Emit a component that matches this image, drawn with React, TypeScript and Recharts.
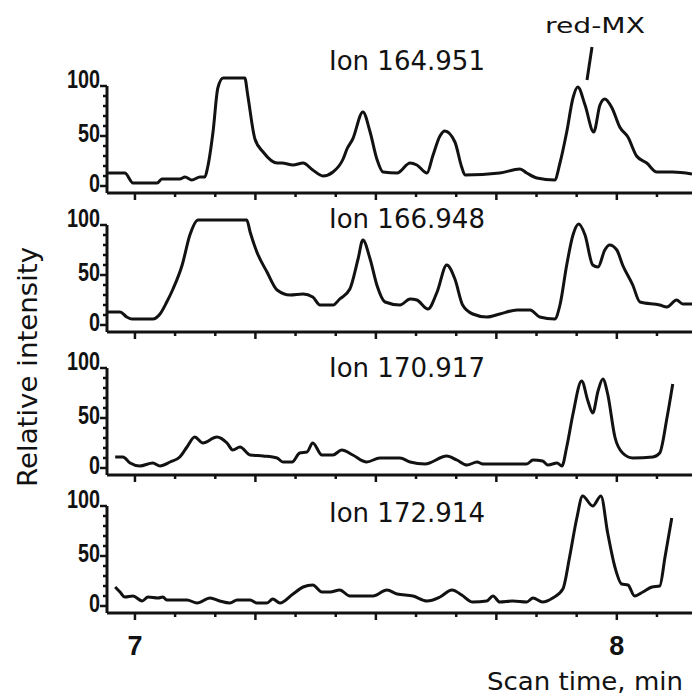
import React from 'react';
import { LineChart, Line, XAxis, YAxis, ReferenceLine } from 'recharts';

// Selected-ion traces: [scan time (min), relative intensity (%)]
const ion164951: [number, number][] = [
  [6.942, 13], [6.979, 13], [6.996, 3], [7.046, 3], [7.056, 7], [7.093, 7], [7.104, 9], [7.118, 6],
  [7.135, 9], [7.145, 9], [7.151, 19], [7.162, 54], [7.172, 98], [7.183, 108], [7.228, 108], [7.234, 91],
  [7.249, 47], [7.266, 34], [7.295, 23], [7.305, 23], [7.328, 21], [7.349, 23], [7.369, 16], [7.39, 10],
  [7.411, 14], [7.432, 27], [7.44, 37], [7.452, 47], [7.473, 74], [7.488, 54], [7.502, 27], [7.515, 14],
  [7.544, 13], [7.571, 23], [7.585, 21], [7.606, 13], [7.618, 30], [7.633, 50], [7.643, 55], [7.664, 44],
  [7.678, 19], [7.685, 11], [7.757, 13], [7.799, 17], [7.813, 13], [7.834, 8], [7.871, 6], [7.882, 23],
  [7.896, 54], [7.909, 88], [7.919, 99], [7.934, 81], [7.952, 54], [7.965, 81], [7.975, 87], [7.99, 78],
  [8.006, 59], [8.023, 49], [8.041, 30], [8.062, 23], [8.083, 14], [8.116, 14], [8.156, 12],
];

const ion166948: [number, number][] = [
  [6.942, 13], [6.969, 13], [6.983, 8], [6.994, 6], [7.037, 6], [7.052, 11], [7.066, 23], [7.079, 36],
  [7.098, 60], [7.114, 90], [7.131, 105], [7.232, 105], [7.239, 93], [7.253, 73], [7.274, 53], [7.295, 35],
  [7.322, 30], [7.349, 31], [7.369, 28], [7.384, 20], [7.411, 20], [7.425, 26], [7.446, 36], [7.463, 66],
  [7.473, 85], [7.488, 66], [7.502, 40], [7.519, 23], [7.55, 20], [7.571, 26], [7.585, 25], [7.608, 16],
  [7.627, 33], [7.647, 60], [7.664, 46], [7.68, 20], [7.701, 11], [7.73, 8], [7.757, 11], [7.793, 15],
  [7.82, 15], [7.84, 8], [7.871, 6], [7.882, 20], [7.896, 60], [7.909, 90], [7.921, 101], [7.934, 90],
  [7.95, 60], [7.961, 58], [7.975, 75], [7.985, 80], [8.0, 75], [8.012, 60], [8.033, 40], [8.048, 23],
  [8.089, 20], [8.104, 18], [8.124, 25], [8.137, 21], [8.156, 21],
];

const ion170917: [number, number][] = [
  [6.959, 11], [6.975, 11], [6.99, 5], [7.01, 2], [7.037, 5], [7.052, 2], [7.073, 6], [7.093, 11],
  [7.108, 21], [7.124, 31], [7.141, 25], [7.17, 31], [7.191, 25], [7.203, 18], [7.218, 21], [7.239, 13],
  [7.266, 12], [7.295, 10], [7.307, 6], [7.326, 6], [7.342, 15], [7.357, 16], [7.369, 25], [7.388, 13],
  [7.411, 13], [7.429, 18], [7.452, 13], [7.481, 6], [7.508, 10], [7.55, 10], [7.571, 6], [7.602, 4],
  [7.647, 12], [7.668, 8], [7.689, 3], [7.71, 6], [7.722, 4], [7.813, 4], [7.826, 8], [7.846, 7],
  [7.857, 3], [7.876, 5], [7.886, 2], [7.896, 21], [7.909, 54], [7.927, 87], [7.94, 67], [7.95, 55],
  [7.961, 77], [7.971, 89], [7.981, 74], [7.996, 31], [8.012, 15], [8.033, 10], [8.075, 11], [8.089, 15],
  [8.104, 50], [8.116, 84],
];

const ion172914: [number, number][] = [
  [6.959, 19], [6.969, 14], [6.979, 9], [6.996, 10], [7.015, 5], [7.027, 9], [7.048, 8], [7.058, 9],
  [7.066, 6], [7.108, 6], [7.129, 3], [7.156, 8], [7.176, 5], [7.197, 3], [7.212, 6], [7.239, 6],
  [7.253, 3], [7.274, 3], [7.286, 7], [7.301, 3], [7.328, 12], [7.349, 19], [7.369, 21], [7.388, 14],
  [7.405, 14], [7.425, 16], [7.446, 10], [7.494, 10], [7.523, 16], [7.544, 12], [7.577, 10], [7.606, 5],
  [7.633, 9], [7.658, 16], [7.678, 11], [7.701, 4], [7.73, 5], [7.743, 10], [7.757, 4], [7.784, 5],
  [7.813, 4], [7.826, 8], [7.846, 4], [7.867, 8], [7.888, 17], [7.902, 49], [7.917, 88], [7.929, 110],
  [7.95, 100], [7.967, 110], [7.981, 73], [7.996, 39], [8.01, 22], [8.023, 21], [8.037, 10], [8.054, 14],
  [8.073, 19], [8.089, 20], [8.1, 49], [8.114, 88],
];

const ionLabels = ['Ion 164.951', 'Ion 166.948', 'Ion 170.917', 'Ion 172.914'];
const traces = [ion164951, ion166948, ion170917, ion172914];

// minor ticks every 5 s, major every 15 s
const timeTicks = [
  7, 7.0833, 7.1667, 7.25, 7.3333, 7.4167, 7.5, 7.5833, 7.6667, 7.75, 7.8333, 7.9167, 8, 8.0833,
];
const intensityTicks = [0, 10, 20, 30, 40, 50, 60, 70, 80, 90, 100];

const INK = '#121212';
const SANS = '"DejaVu Sans", Verdana, sans-serif';
const X_DOMAIN: [number, number] = [6.942, 8.156];
const Y_DOMAIN: [number, number] = [-7, 113];
const PLOT_H = 120;
const AXIS_X = 107;
const TOP_PAD = 20;
const panelTops = [73, 212, 355, 493];

function YTick(props: any) {
  const { x, y, payload } = props;
  const v = payload.value;
  const major = v % 50 === 0;
  return (
    <g>
      <line x1={x - (major ? 7 : 4)} y1={y} x2={x} y2={y} stroke={INK} strokeWidth={2.5} />
      {major && (
        <text
          x={x - 7}
          y={y + (v === 100 ? 2 : 6)}
          textAnchor="end"
          fontFamily="'Liberation Sans', Arial, sans-serif"
          fontWeight="bold"
          fontSize={26}
          fill={INK}
          textLength={String(v).length * 11}
          lengthAdjust="spacingAndGlyphs"
        >
          {v}
        </text>
      )}
    </g>
  );
}

function makeXTick(showLabels: boolean) {
  return function XTick(props: any) {
    const { x, y, payload } = props;
    const k = Math.round((payload.value - 7) * 12);
    const major = k % 3 === 0;
    const whole = k % 12 === 0;
    return (
      <g>
        <line x1={x} y1={y} x2={x} y2={y + (major ? 7 : 4)} stroke={INK} strokeWidth={2.5} />
        {showLabels && whole && (
          <text
            x={x}
            y={y + 42}
            textAnchor="middle"
            fontFamily="'Liberation Sans', Arial, sans-serif"
            fontWeight="bold"
            fontSize={27}
            fill={INK}
          >
            {Math.round(payload.value)}
          </text>
        )}
      </g>
    );
  };
}

function Panel({ trace, top, bottom }: { trace: [number, number][]; top: number; bottom: boolean }) {
  const rows = trace.map(([t, v]) => ({ t, v }));
  const xh = bottom ? 50 : 10;
  return (
    <div style={{ position: 'absolute', left: 0, top: top - TOP_PAD }}>
      <LineChart
        width={692}
        height={PLOT_H + xh + TOP_PAD}
        data={rows}
        margin={{ top: TOP_PAD, right: 0, bottom: 0, left: 0 }}
      >
        <XAxis
          type="number"
          dataKey="t"
          domain={X_DOMAIN}
          allowDataOverflow
          ticks={timeTicks}
          interval={0}
          tickLine={false}
          tickSize={0}
          tickMargin={0}
          tick={makeXTick(bottom)}
          axisLine={{ stroke: INK, strokeWidth: 3 }}
          height={xh}
        />
        <YAxis
          type="number"
          domain={Y_DOMAIN}
          allowDataOverflow
          ticks={intensityTicks}
          interval={0}
          width={AXIS_X}
          axisLine={false}
          tickLine={false}
          tickSize={0}
          tickMargin={0}
          tick={<YTick />}
        />
        <ReferenceLine
          segment={[{ x: X_DOMAIN[0], y: -7 }, { x: X_DOMAIN[0], y: 100 }]}
          stroke={INK}
          strokeWidth={3}
          ifOverflow="visible"
        />
        <Line
          type="monotone"
          dataKey="v"
          stroke={INK}
          strokeWidth={3}
          dot={false}
          isAnimationActive={false}
        />
      </LineChart>
    </div>
  );
}

const labelBaselines = [70, 228, 377, 522];

export default function App() {
  return (
    <div style={{ position: 'absolute', left: 0, top: 0, width: 692, height: 698, background: '#fff' }}>
      {traces.map((trace, i) => (
        <Panel key={ionLabels[i]} trace={trace} top={panelTops[i]} bottom={i === traces.length - 1} />
      ))}
      <svg
        width={692}
        height={698}
        style={{ position: 'absolute', left: 0, top: 0, pointerEvents: 'none' }}
      >
        {ionLabels.map((label, i) => (
          <text
            key={label}
            x={329}
            y={labelBaselines[i]}
            fontFamily={SANS}
            fontSize={26}
            fill={INK}
            textLength={156}
            lengthAdjust="spacingAndGlyphs"
          >
            {label}
          </text>
        ))}
        <text x={545} y={33} fontFamily={SANS} fontSize={21} fill={INK} textLength={100} lengthAdjust="spacingAndGlyphs">
          red-MX
        </text>
        <line x1={592} y1={47} x2={587} y2={80} stroke={INK} strokeWidth={3} />
        <text x={487} y={690} fontFamily={SANS} fontSize={24} fill={INK} textLength={196} lengthAdjust="spacingAndGlyphs">
          Scan time, min
        </text>
        <text
          x={37}
          y={367}
          transform="rotate(-90, 37, 367)"
          textAnchor="middle"
          fontFamily={SANS}
          fontSize={27}
          fill={INK}
          textLength={240}
          lengthAdjust="spacingAndGlyphs"
        >
          Relative intensity
        </text>
      </svg>
    </div>
  );
}
